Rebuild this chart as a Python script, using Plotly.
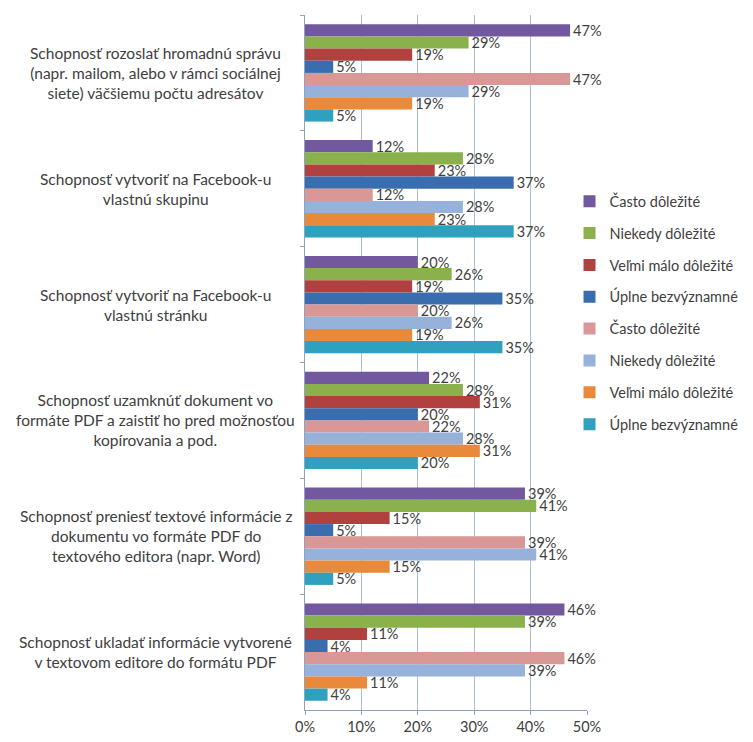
import plotly.graph_objects as go

categories = [
    "Schopnosť rozoslať hromadnú správu<br>(napr. mailom, alebo v rámci sociálnej<br>siete) väčšiemu počtu adresátov",
    "Schopnosť vytvoriť na Facebook-u<br>vlastnú skupinu",
    "Schopnosť vytvoriť na Facebook-u<br>vlastnú stránku",
    "Schopnosť uzamknúť dokument vo<br>formáte PDF a zaistiť ho pred možnosťou<br>kopírovania a pod.",
    "Schopnosť preniesť textové informácie z<br>dokumentu vo formáte PDF do<br>textového editora (napr. Word)",
    "Schopnosť ukladať informácie vytvorené<br>v textovom editore do formátu PDF",
]

series_names = [
    "Často dôležité", "Niekedy dôležité", "Veľmi málo dôležité", "Úplne bezvýznamné",
    "Často dôležité", "Niekedy dôležité", "Veľmi málo dôležité", "Úplne bezvýznamné",
]

s1 = [47, 12, 20, 22, 39, 46]
s2 = [29, 28, 26, 28, 41, 39]
s3 = [19, 23, 19, 31, 15, 11]
s4 = [5, 37, 35, 20, 5, 4]
s5 = [47, 12, 20, 22, 39, 46]
s6 = [29, 28, 26, 28, 41, 39]
s7 = [19, 23, 19, 31, 15, 11]
s8 = [5, 37, 35, 20, 5, 4]
series_values = [s1, s2, s3, s4, s5, s6, s7, s8]

colors = ["#71589F", "#8AB14B", "#B1413E", "#3A6DAD",
          "#D99795", "#96B2DA", "#E8893B", "#2FA0BD"]

tick_vals = [0, 10, 20, 30, 40, 50]
tick_text = ["0%", "10%", "20%", "30%", "40%", "50%"]

FONT = "Lato, 'Open Sans', sans-serif"
TXT = "#404040"

fig = go.Figure()
for i, (name, vals) in enumerate(zip(series_names, series_values)):
    fig.add_trace(go.Bar(
        y=categories, x=vals, orientation="h", name=name,
        marker=dict(color=colors[i], line=dict(width=0)),
        text=[f"{v}%" for v in vals], textposition="outside",
        constraintext="none", cliponaxis=False,
        textfont=dict(family=FONT, size=14.5, color=TXT),
        legendgroup=f"g{i}",
    ))

for c in categories:
    fig.add_annotation(
        x=-0.53, xref="paper", y=c, yref="y", text=c, showarrow=False,
        xanchor="center", yanchor="middle", align="center",
        font=dict(family=FONT, size=15.5, color=TXT),
    )

fig.update_layout(
    width=753, height=742,
    margin=dict(l=305, r=166, t=15, b=32, autoexpand=False),
    paper_bgcolor="white", plot_bgcolor="white",
    barmode="group", bargap=0.16, bargroupgap=0,
    showlegend=True,
    legend=dict(x=0.938, y=0.755, xanchor="left", yanchor="top",
                font=dict(family=FONT, size=14.5, color=TXT),
                tracegroupgap=10, bgcolor="rgba(0,0,0,0)",
                itemwidth=30),
    font=dict(family=FONT, size=14.5, color=TXT),
)

fig.update_xaxes(
    range=[0, 50], tickvals=tick_vals, ticktext=tick_text,
    showgrid=True, gridcolor="#A9C0D8", gridwidth=1,
    showline=True, linecolor="#8EA3BC", linewidth=1,
    ticks="outside", ticklen=4, tickcolor="#8EA3BC",
    tickfont=dict(family=FONT, size=14.5, color=TXT), zeroline=False,
)
fig.update_yaxes(
    autorange="reversed", showticklabels=False,
    showline=True, linecolor="#8EA3BC", linewidth=1,
    ticks="outside", ticklen=4, tickcolor="#8EA3BC", tickson="boundaries",
    showgrid=False,
)

fig.write_html("out.html")
